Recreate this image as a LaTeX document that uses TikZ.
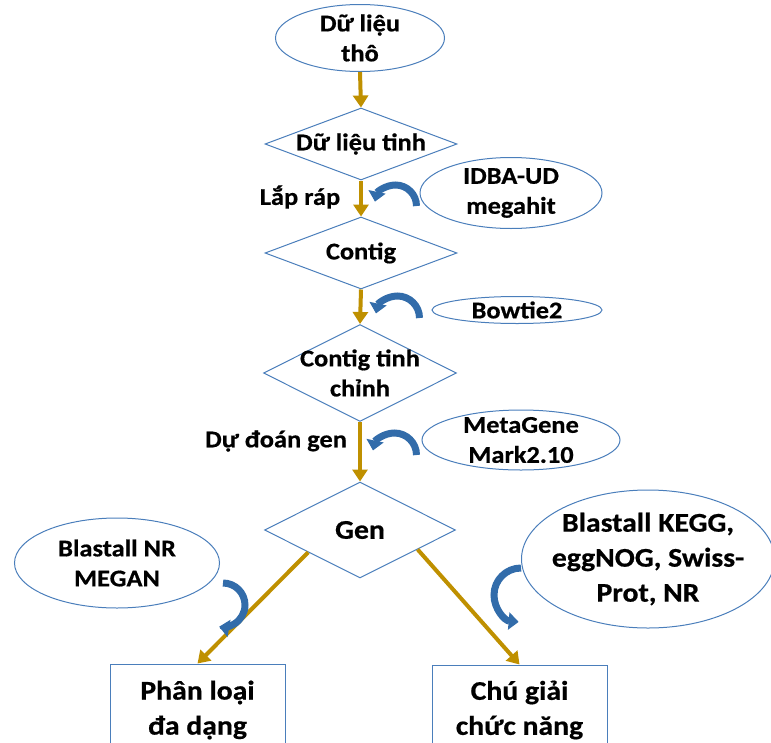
\documentclass[tikz,border=0pt]{standalone}
\usepackage{fontspec}
\setmainfont{Carlito}[FakeStretch=1.1,FakeBold=0.6]
\usetikzlibrary{shapes.geometric,arrows.meta,calc}
\definecolor{lineblue}{RGB}{74,126,187}
\definecolor{flowgold}{RGB}{191,144,0}
\definecolor{toolblue}{RGB}{50,108,170}
\tikzset{
term/.style={ellipse, draw=lineblue, line width=1pt, inner sep=0pt},
decision/.style={diamond, draw=lineblue, line width=1pt, inner sep=0pt},
result/.style={rectangle, draw=lineblue, line width=1pt, minimum width=175pt, minimum height=88pt},
txt/.style={font=\fontsize{24}{30}\selectfont\bfseries, align=center, inner sep=0pt},
bigtxt/.style={font=\fontsize{27}{35}\selectfont\bfseries, align=center, inner sep=0pt},
flow/.style={flowgold, line width=4pt, -{Triangle[width=15pt,length=12pt]}},
tool/.style={toolblue, line width=7pt, -{Triangle[width=17pt,length=10pt]}}
}
\begin{document}
\begin{tikzpicture}[x=1pt,y=-1pt]
\useasboundingbox (0,0) rectangle (771,742);
\clip (0,0) rectangle (771,742);
\node[term, minimum width=169pt, minimum height=67pt] (raw) at (360,38){};
\node[txt] (rawt) at (raw){Dữ liệu\\thô};
\node[decision, minimum width=192pt, minimum height=72pt] (clean) at (361,144){};
\node[txt] (cleant) at (clean){Dữ liệu tinh};
\node[term, minimum width=182pt, minimum height=71pt] (idba) at (511,193){};
\node[txt] (idbat) at (idba){IDBA-UD\\megahit};
\node[decision, minimum width=192pt, minimum height=72pt] (contig) at (361,253){};
\node[txt] (contigt) at (contig){Contig};
\node[term, minimum width=170pt, minimum height=27pt] (bowtie) at (517,310){};
\node[txt] (bowtiet) at (bowtie){Bowtie2};
\node[decision, minimum width=193pt, minimum height=97pt] (refined) at (360,373){};
\node[txt] (refinedt) at (refined){Contig tinh\\chỉnh};
\node[term, minimum width=198pt, minimum height=60pt] (meta) at (521,440){};
\node[txt] (metat) at (meta){MetaGene\\Mark2.10};
\node[decision, minimum width=191pt, minimum height=96pt] (gen) at (360,530){};
\node[bigtxt] (gent) at (gen){Gen};
\node[term, minimum width=205pt, minimum height=90pt] (nr) at (117,563){};
\node[txt] (nrt) at (nr){Blastall NR\\MEGAN};
\node[term, minimum width=253pt, minimum height=138pt] (kegg) at (648,559){};
\node[bigtxt] (keggt) at (kegg){Blastall KEGG,\\eggNOG, Swiss-\\Prot, NR};
\node[result] (taxa) at (197.5,708){};
\node[bigtxt] (taxat) at (197.5,710){Phân loại\\đa dạng};
\node[result] (func) at (519.5,709){};
\node[bigtxt] (funct) at (519.5,710){Chú giải\\chức năng};
\node[txt] (lap) at (300,197){Lắp ráp};
\node[txt] (predict) at (276,441){Dự đoán gen};
\draw[flow] (raw.south) -- (clean.north);
\draw[flow] (clean.south) -- (contig.north);
\draw[flow] (contig.south) -- (refined.north);
\draw[flow] (refined.south) -- (gen.north);
\draw[flow] ($(gen.south)!0.54!(gen.west)$) -- (taxa.north);
\draw[flow] ($(gen.south)!0.6!(gen.east)$) -- (func.north);
\draw[tool] (idba.west) ++(-3,13) arc[start angle=0, end angle=-168, radius=21];
\draw[tool] (bowtie.west) ++(-12,8) arc[start angle=0, end angle=-168, radius=22];
\draw[tool] (meta.west) ++(-5,15) arc[start angle=0, end angle=-168, radius=22];
\draw[tool] (nr.east) ++(3,20) arc[start angle=-90, end angle=100, radius=22];
\draw[tool] (kegg.west) ++(0,9) arc[start angle=-90, end angle=-265, radius=27];
\end{tikzpicture}
\end{document}
